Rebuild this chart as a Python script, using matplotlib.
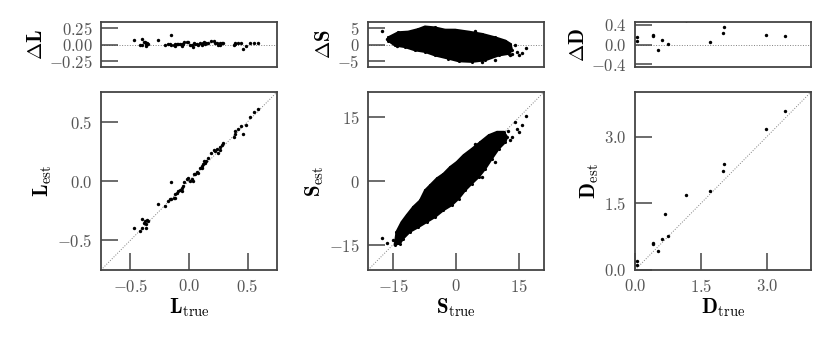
import numpy as np
import matplotlib
matplotlib.use("Agg")
import matplotlib.pyplot as plt

plt.rcParams["font.family"] = "serif"
plt.rcParams["font.serif"] = ["cmr10"]
plt.rcParams["mathtext.fontset"] = "cm"
plt.rcParams["axes.formatter.use_mathtext"] = True
plt.rcParams["font.size"] = 12

# L: true vs estimated
L_true = [-0.47, -0.42, -0.40, -0.40, -0.385, -0.376, -0.37, -0.37, -0.36, -0.35,
          -0.26, -0.205, -0.15, -0.18, -0.16, -0.15, -0.13, -0.12, -0.12, -0.105,
          -0.09, -0.077, -0.06, -0.06, -0.05, -0.045, -0.02, -0.006, 0.01, 0.023,
          0.037, 0.04, 0.05, 0.066, 0.08, 0.094, 0.11, 0.11, 0.12, 0.128,
          0.137, 0.145, 0.165, 0.19, 0.21, 0.22, 0.24, 0.25, 0.265, 0.26,
          0.28, 0.29, 0.38, 0.39, 0.39, 0.42, 0.44, 0.46, 0.49, 0.52,
          0.55, 0.59]
L_est = [-0.40, -0.425, -0.40, -0.32, -0.35, -0.333, -0.36, -0.40, -0.33, -0.34,
         -0.19, -0.21, -0.005, -0.17, -0.15, -0.15, -0.14, -0.14, -0.11, -0.10,
         -0.083, -0.075, -0.083, -0.055, -0.04, -0.01, 0.014, 0.028, 0.0, 0.014,
         0.0, 0.056, 0.056, 0.075, 0.07, 0.11, 0.125, 0.11, 0.14, 0.167,
         0.15, 0.167, 0.195, 0.24, 0.26, 0.25, 0.27, 0.24, 0.26, 0.29,
         0.305, 0.32, 0.375, 0.42, 0.40, 0.44, 0.46, 0.395, 0.47, 0.54,
         0.58, 0.61]

# S: dense cloud, outline of the filled core + loose points
S_core_true = [-14.6, -14.2, -13.0, -11.8, -10.2, -8.6, -7.4, -6.2, -4.6, -3.0,
               -1.4, 0.2, 1.8, 3.8, 5.8, 7.8, 9.8, 11.4, 12.2, 11.8,
               10.2, 8.6, 7.0, 5.4, 3.8, 2.2, 0.6, -1.0, -3.0, -5.0,
               -7.0, -9.0, -11.0, -12.6, -13.4]
S_core_est = [-15.0, -12.0, -9.7, -8.1, -6.1, -4.6, -2.2, -1.0, 0.6, 1.7,
              3.3, 4.5, 6.1, 7.6, 9.2, 10.8, 11.6, 11.6, 10.4, 9.2,
              7.6, 5.3, 2.9, 0.9, -0.6, -2.2, -4.2, -5.7, -6.9, -8.5,
              -9.7, -10.9, -12.0, -13.6, -14.8]
S_res_core_true = [-16.2, -13.8, -11.4, -9.0, -7.4, -5.0, -2.6, -0.2, 3.0, 6.2,
                   9.4, 11.8, 13.0, 13.4, 12.6, 10.2, 7.0, 3.8, 0.6, -1.8,
                   -5.0, -7.4, -9.8, -12.2, -14.6, -16.2]
S_res_core = [2.2, 3.8, 4.0, 4.8, 5.6, 5.3, 4.6, 4.6, 4.0, 3.3,
              2.2, 1.2, 0.2, -1.8, -2.9, -3.4, -4.9, -5.4, -5.2, -4.4,
              -3.4, -2.3, -1.8, -0.8, -0.3, 1.2]
S_out_true = [-17.7, -16.4, -15.0, -14.0, -13.6, 4.6, 6.2, 16.6, 14.0, 15.8,
              15.0, 13.4, 13.0, 9.4, -8.2, 12.4, 14.6]
S_out_est = [-13.5, -14.6, -14.0, -14.4, -13.0, 8.8, 0.9, 15.4, 13.9, 13.1,
             11.6, 10.4, 9.6, 4.5, -5.4, 11.8, 12.2]

# D: true vs estimated
D_true = [0.05, 0.04, 0.40, 0.41, 0.53, 0.61, 0.74, 0.68, 1.17, 1.71,
          1.99, 2.03, 2.98, 3.40]
D_est = [0.20, 0.11, 0.60, 0.58, 0.42, 0.70, 0.76, 1.26, 1.68, 1.77,
         2.23, 2.39, 3.17, 3.57]

panels = [
    dict(tr=L_true, es=L_est, lim=(-0.75, 0.75), ticks=[-0.5, 0.0, 0.5],
         rlim=(-0.35, 0.35), rticks=[-0.25, 0.0, 0.25], name="L", x0=101),
    dict(tr=S_out_true, es=S_out_est, lim=(-21, 21), ticks=[-15, 0, 15],
         rlim=(-7, 7), rticks=[-5, 0, 5], name="S", x0=368),
    dict(tr=D_true, es=D_est, lim=(0, 4.0), ticks=[0.0, 1.5, 3.0],
         rlim=(-0.46, 0.46), rticks=[-0.4, 0.0, 0.4], name="D", x0=635),
]

W, H = 830, 342
fig = plt.figure(figsize=(W / 100, H / 100), dpi=100)

spine_c = "#444444"
for p in panels:
    ax = fig.add_axes([p["x0"] / W, (H - 270) / H, 176 / W, 178 / H])
    axr = fig.add_axes([p["x0"] / W, (H - 67) / H, 176 / W, 45 / H])
    tr = np.array(p["tr"])
    es = np.array(p["es"])

    if p["name"] == "S":
        ax.fill(S_core_true, S_core_est, color="black", lw=1.5, ec="black", zorder=2)
        axr.fill(S_res_core_true, S_res_core, color="black", lw=1.5, ec="black", zorder=2)
        ax.scatter(S_core_true, S_core_est, s=5, c="black", lw=0, zorder=3)
        axr.scatter(S_res_core_true, S_res_core, s=5, c="black", lw=0, zorder=3)

    ax.scatter(tr, es, s=6, c="black", lw=0, zorder=3)
    axr.scatter(tr, es - tr, s=6, c="black", lw=0, zorder=3)

    lo, hi = p["lim"]
    ax.plot([lo, hi], [lo, hi], ls=":", color="gray", lw=0.7, zorder=1)
    axr.axhline(0, ls=":", color="gray", lw=0.7, zorder=1)

    ax.set_xlim(lo, hi)
    ax.set_ylim(lo, hi)
    ax.set_xticks(p["ticks"])
    ax.set_yticks(p["ticks"])
    axr.set_xlim(lo, hi)
    axr.set_ylim(p["rlim"])
    axr.set_yticks(p["rticks"])
    axr.set_xticks([])

    n = p["name"]
    ax.set_xlabel(r"$\mathbf{%s}_{\rm true}$" % n, fontsize=15, labelpad=1)
    ax.set_ylabel(r"$\mathbf{%s}_{\rm est}$" % n, fontsize=15, labelpad=2)
    axr.set_ylabel(r"$\mathbf{\Delta %s}$" % n, fontsize=15, labelpad=2)

    for a in (ax, axr):
        for s in a.spines.values():
            s.set_color(spine_c)
            s.set_linewidth(1.3)
        a.tick_params(direction="in", length=12, width=1.1, color=spine_c,
                      labelcolor="#555555", labelsize=12, pad=6,
                      top=False, right=False)

fig.savefig("out.png", dpi=100)
